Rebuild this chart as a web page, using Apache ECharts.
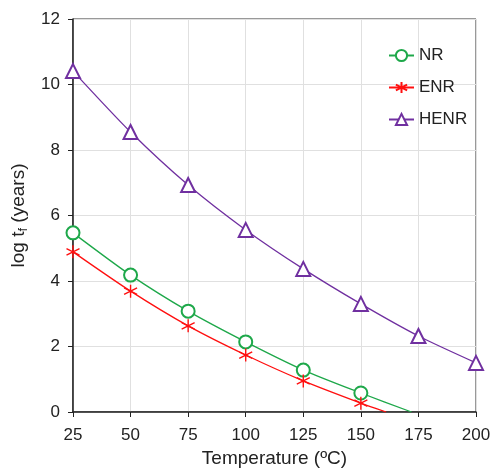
<!DOCTYPE html>
<html><head><meta charset="utf-8">
<script src="https://cdn.jsdelivr.net/npm/echarts@6/dist/echarts.min.js"></script>
<style>html,body{margin:0;padding:0;background:#fff}#c{width:492px;height:468px}</style>
</head><body><div id="c"></div>
<script>
const temps = [25, 50, 75, 100, 125, 150, 175, 200];
const nrVals = [5.47, 4.18, 3.08, 2.14, 1.28, 0.58];
const enrVals = [4.89, 3.69, 2.63, 1.74, 0.95, 0.27];
const henrVals = [10.41, 8.55, 6.93, 5.56, 4.37, 3.30, 2.32, 1.50];
// where the fitted curves reach the x axis
const nrEnd = [172, 0];
const enrEnd = [161, 0];
const xTicks = [25, 200, 25];
const yTicks = [0, 12, 2];

function build(vals, end) {
  const d = vals.map((v, i) => [temps[i], v]);
  if (end) d.push({ value: end, symbol: 'none' });
  return d;
}
const green = '#1ea84a', red = '#ff1010', purple = '#7030a0';
const star = 'path://M0,-10L0,10M-8.66,-5L8.66,5M-8.66,5L8.66,-5';
const font = 'Liberation Sans, Arial, sans-serif';
const chart = echarts.init(document.getElementById('c'));
chart.setOption({
  animation: false,
  textStyle: { fontFamily: font },
  grid: { left: 73, right: 16, top: 19, bottom: 56, show: true, borderColor: '#333', borderWidth: 1,
          containLabel: false, outerBoundsMode: 'none' },
  legend: {
    orient: 'vertical', left: 383, top: 42, itemWidth: 25, itemHeight: 14, itemGap: 15,
    textStyle: { fontSize: 17, color: '#222', fontFamily: font },
    data: ['NR', 'ENR', 'HENR']
  },
  xAxis: {
    type: 'value', min: xTicks[0], max: xTicks[1], interval: xTicks[2],
    name: 'Temperature (ºC)', nameLocation: 'middle', nameGap: 37,
    nameTextStyle: { fontSize: 19, color: '#222', fontFamily: font },
    axisLine: { show: true, onZero: false, lineStyle: { color: '#222', width: 1.5 } },
    axisTick: { show: true, length: 5, lineStyle: { color: '#222' } },
    axisLabel: { fontSize: 17, color: '#222', margin: 15 },
    splitLine: { show: true, lineStyle: { color: '#e0e0e0' } }
  },
  yAxis: {
    type: 'value', min: yTicks[0], max: yTicks[1], interval: yTicks[2],
    name: 'log t{s|f} (years)', nameLocation: 'middle', nameGap: 40, nameRotate: 90,
    nameTextStyle: { fontSize: 19, color: '#222', fontFamily: font,
      rich: { s: { fontSize: 13, verticalAlign: 'bottom', padding: [9, 0, 0, 0], color: '#222' } } },
    axisLine: { show: true, lineStyle: { color: '#222', width: 1.5 } },
    axisTick: { show: true, length: 5, lineStyle: { color: '#222' } },
    axisLabel: { fontSize: 17, color: '#222', margin: 13 },
    splitLine: { show: true, lineStyle: { color: '#e0e0e0' } }
  },
  series: [
    { name: 'NR', type: 'line', data: build(nrVals, nrEnd), smooth: 0.25, clip: true,
      symbol: 'emptyCircle', symbolSize: 13, color: green,
      lineStyle: { color: green, width: 1.3 },
      itemStyle: { color: green, borderWidth: 1.2 } },
    { name: 'ENR', type: 'line', data: build(enrVals, enrEnd), smooth: 0.25, clip: true,
      symbol: star, symbolSize: 13, color: red,
      lineStyle: { color: red, width: 1.3 },
      itemStyle: { color: 'none', borderColor: red, borderWidth: 1.4 } },
    { name: 'HENR', type: 'line', data: build(henrVals, null), smooth: 0.25, clip: true,
      symbol: 'emptyTriangle', symbolSize: 14, color: purple,
      lineStyle: { color: purple, width: 1.3 },
      itemStyle: { color: purple, borderWidth: 1.2 } }
  ]
});
</script></body></html>
